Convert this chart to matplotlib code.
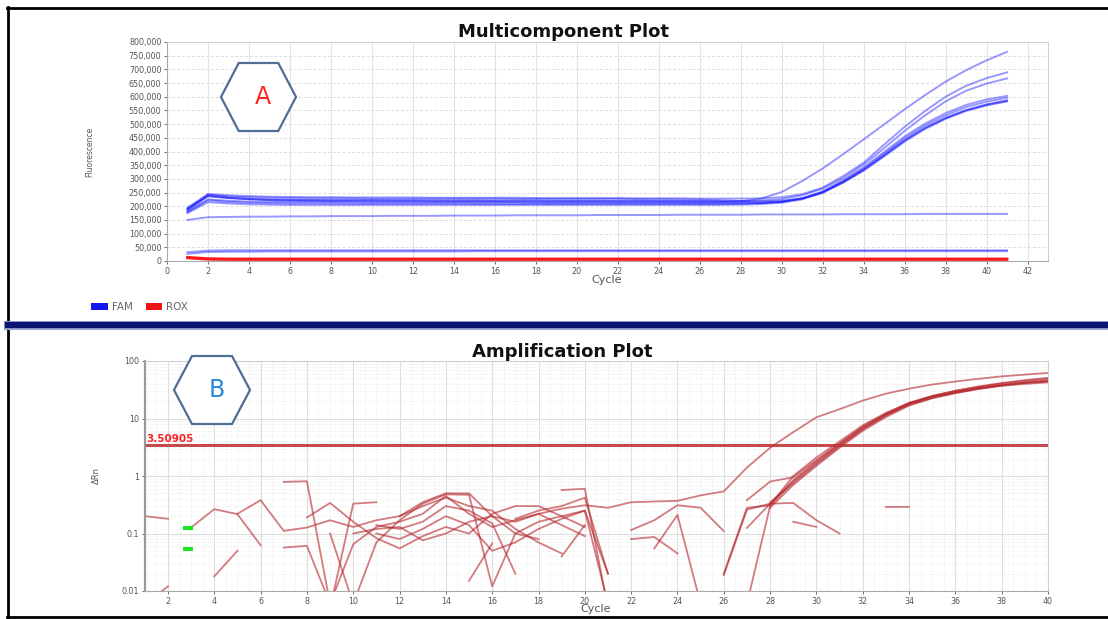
import matplotlib
matplotlib.use('Agg')
import matplotlib.pyplot as plt
import numpy as np
from matplotlib.lines import Line2D
from matplotlib.patches import Patch, Polygon
from matplotlib.ticker import FuncFormatter, MultipleLocator, FixedLocator, LogLocator, NullFormatter

N = None

# ---------- Multicomponent plot (fluorescence, in thousands) ----------
mc_cycles = list(range(1, 42))

fam_1 = [190, 240, 232, 226, 222, 220, 219, 218, 218, 217, 217, 217, 216, 216, 216, 216, 215, 215, 215, 215, 215,
         214, 214, 214, 214, 214, 215, 218, 228, 252, 292, 338, 390, 444, 499, 554, 606, 655, 697, 733, 764]
fam_2 = [195, 245, 240, 237, 235, 234, 233, 233, 232, 232, 232, 232, 231, 231, 231, 231, 231, 230, 230, 230, 230,
         230, 229, 229, 229, 228, 228, 228, 229, 233, 244, 268, 310, 359, 425, 490, 548, 600, 640, 668, 689]
fam_3 = [185, 238, 230, 226, 224, 223, 222, 222, 222, 222, 221, 221, 221, 221, 221, 220, 220, 220, 220, 220, 220,
         219, 219, 219, 219, 219, 219, 219, 221, 226, 240, 264, 303, 352, 412, 475, 532, 583, 622, 648, 667]
fam_4 = [178, 222, 216, 213, 211, 210, 210, 210, 209, 209, 209, 209, 209, 209, 208, 208, 208, 208, 208, 208, 208,
         208, 208, 208, 208, 208, 208, 209, 211, 216, 229, 254, 295, 342, 398, 455, 502, 540, 570, 590, 603]
fam_5 = [192, 236, 230, 226, 224, 223, 223, 222, 222, 222, 222, 222, 221, 221, 221, 221, 221, 221, 220, 220, 220,
         220, 220, 219, 219, 218, 216, 214, 214, 217, 228, 252, 291, 337, 392, 448, 495, 532, 562, 582, 596]
fam_6 = [175, 215, 210, 207, 206, 205, 205, 205, 205, 205, 205, 205, 205, 205, 205, 205, 205, 205, 205, 205, 205,
         205, 205, 205, 205, 205, 205, 206, 208, 213, 225, 249, 287, 332, 385, 440, 486, 522, 551, 572, 587]
fam_7 = [182, 225, 220, 217, 216, 215, 215, 215, 215, 214, 214, 214, 214, 214, 214, 214, 214, 213, 213, 213, 213,
         213, 213, 213, 212, 212, 211, 211, 212, 216, 228, 251, 289, 334, 387, 441, 487, 523, 551, 571, 585]
fam_8 = [188, 242, 236, 233, 231, 230, 229, 229, 229, 228, 228, 228, 228, 228, 228, 228, 227, 227, 227, 227, 227,
         227, 226, 226, 225, 224, 222, 219, 218, 220, 229, 250, 286, 330, 382, 436, 482, 519, 548, 568, 583]
fam_flat = [150, 160, 161, 162, 162, 163, 163, 164, 164, 164, 165, 165, 165, 166, 166, 166, 167, 167, 167, 167, 168,
            168, 168, 168, 169, 169, 169, 169, 170, 170, 170, 170, 171, 171, 171, 171, 172, 172, 172, 172, 172]
fam_low1 = [26, 33, 34, 34, 35, 35, 35, 35, 35, 35, 35, 35, 35, 35, 36, 36, 36, 36, 36, 36, 36,
            36, 36, 36, 36, 36, 36, 36, 36, 36, 36, 36, 36, 36, 36, 36, 36, 36, 36, 36, 36]
fam_low2 = [32, 38, 39, 39, 39, 39, 39, 39, 39, 39, 39, 39, 39, 39, 39, 39, 39, 39, 39, 39, 39,
            39, 39, 39, 39, 39, 39, 39, 39, 39, 39, 39, 39, 39, 39, 39, 39, 39, 39, 39, 39]
rox_1 = [14, 9, 8, 8, 8, 8, 8, 8, 8, 8, 8, 8, 8, 8, 8, 8, 8, 8, 8, 8, 8,
         8, 8, 8, 8, 8, 8, 8, 8, 8, 8, 8, 8, 8, 8, 8, 8, 8, 8, 8, 8]
rox_2 = [11, 6, 5, 5, 5, 5, 5, 5, 5, 5, 5, 5, 5, 5, 5, 5, 5, 5, 5, 5, 5,
         5, 5, 5, 5, 5, 5, 5, 5, 5, 5, 5, 5, 5, 5, 5, 5, 5, 5, 5, 5]

fam_wells = [fam_1, fam_2, fam_3, fam_4, fam_5, fam_6, fam_7, fam_8, fam_flat, fam_low1, fam_low2]
rox_wells = [rox_1, rox_2]

# ---------- Amplification plot (delta Rn, cycles 1..40) ----------
amp_cycles = list(range(1, 41))

well_1 = [0.20, 0.18, N, N, N, N, 0.057, 0.061, 0.006, 0.065,
          0.13, 0.16, 0.22, 0.45, 0.22, 0.13, 0.17, 0.22, 0.14, 0.09,
          N, N, N, N, N, 0.02, 0.28, 0.31, 1.0, 2.1,
          4.0, 7.6, 12.5, 18.5, 24, 29, 34, 38.5, 42.5, 46]
well_2 = [0.006, 0.012, N, N, N, N, N, 0.19, 0.34, 0.16,
          0.083, 0.055, 0.09, 0.13, 0.10, 0.22, 0.30, 0.30, 0.20, 0.13,
          N, N, N, N, N, N, 0.38, 0.80, 0.95, 1.9,
          3.7, 7.0, 11.8, 18, 23.5, 28.5, 33.5, 38, 42, 45]
well_3 = [N, N, 0.127, 0.265, 0.217, 0.0625, N, N, 0.005, 0.33,
          0.35, N, N, N, 0.015, 0.067, N, N, 0.04, 0.14,
          N, N, N, N, N, N, 0.006, 0.30, 0.80, 1.7,
          3.4, 6.6, 11.2, 17.2, 22.8, 28, 33, 37.5, 41.5, 44]
well_4 = [N, N, N, 0.018, 0.05, N, N, N, 0.10, 0.006,
          0.07, 0.17, 0.33, 0.48, 0.47, 0.012, 0.10, 0.16, 0.20, 0.25,
          0.02, N, N, N, N, N, 0.125, 0.33, 0.85, 1.8,
          3.6, 7.2, 12.2, 18.8, 24.8, 30.2, 35.5, 40.5, 45, 49]
well_5 = [N, N, N, N, 0.22, 0.38, 0.111, 0.127, 0.17, 0.13,
          0.17, 0.20, 0.30, 0.42, 0.30, 0.25, 0.12, 0.07, 0.045, N,
          N, N, N, N, N, N, N, 0.35, 0.75, 1.6,
          3.3, 6.5, 11.5, 18.2, 24.5, 30.5, 36, 41.5, 46.5, 51]
well_6 = [N, N, N, N, N, N, 0.79, 0.81, 0.006, N,
          0.10, 0.08, 0.12, 0.20, 0.14, 0.05, 0.07, 0.12, 0.18, 0.25,
          0.006, N, N, N, N, N, N, 0.28, 0.70, 1.5,
          3.1, 6.1, 10.6, 16.8, 22.5, 27.5, 32.5, 37, 40, 42.5]
well_7 = [N, N, N, N, N, N, N, N, N, 0.10,
          0.12, 0.13, 0.076, 0.10, 0.16, 0.20, 0.16, 0.22, 0.27, 0.31,
          0.28, 0.35, 0.36, 0.37, 0.46, 0.54, 1.4, 3.1, 5.8, 10.5,
          14.5, 20.5, 27, 33, 39, 44, 49, 54, 58, 62]
well_8 = [N, N, N, N, N, N, N, N, N, N,
          N, N, N, N, N, N, N, N, 0.57, 0.60,
          0.005, N, N, N, N, 0.019, 0.26, 0.33, 0.34, 0.17,
          0.10, N, N, N, N, N, N, N, N, N]
well_9 = [N, N, N, N, N, N, N, N, N, N,
          N, 0.20, 0.35, 0.50, 0.50, 0.20, 0.10, 0.08, N, N,
          N, 0.08, 0.087, 0.045, N, N, N, N, 0.16, 0.13,
          N, N, 0.29, 0.29, N, N, N, N, N, N]
well_10 = [N, N, N, N, N, N, N, N, N, N,
           N, N, N, N, N, N, 0.18, 0.25, 0.30, 0.42,
           0.02, N, 0.055, 0.21, 0.006, N, N, N, N, N,
           N, N, N, N, N, N, N, N, N, N]
well_11 = [N, N, N, N, N, N, N, N, N, N,
           0.14, 0.12, 0.16, 0.30, 0.25, 0.15, 0.02, N, N, N,
           N, 0.115, 0.17, 0.31, 0.28, 0.11, N, N, N, N,
           N, N, N, N, N, N, N, N, N, N]

amp_wells = [well_1, well_2, well_3, well_4, well_5, well_6, well_7, well_8, well_9, well_10, well_11]

threshold = 3.50905
marker_cycles = [2.88, 2.88]
marker_values = [0.125, 0.054]

W, H = 1108, 619
fig = plt.figure(figsize=(W / 100, H / 100), dpi=100)


def fx(px):
    return px / W


def fy(py):
    return 1 - py / H


# frame lines
fig.add_artist(Line2D([fx(8), fx(8)], [fy(7), fy(618)], color='black', lw=2))
fig.add_artist(Line2D([fx(7), 1], [fy(8), fy(8)], color='black', lw=2))
fig.add_artist(Line2D([fx(7), 1], [fy(617), fy(617)], color='black', lw=2))
fig.add_artist(Line2D([fx(8), 1], [fy(324.5), fy(324.5)], color='#9aa4d0', lw=6.5))
fig.add_artist(Line2D([fx(8), 1], [fy(324.5), fy(324.5)], color='#0b1272', lw=4.5))

tick_col = '#555555'

# ---------- top panel ----------
ax1 = fig.add_axes([fx(167), fy(261), fx(1048 - 167), (261 - 42) / H])
for w in fam_wells:
    ax1.plot(mc_cycles, np.array(w) * 1000, color='#1c1cff', alpha=0.45, lw=1.4)
for w in rox_wells:
    ax1.plot(mc_cycles, np.array(w) * 1000, color='#ff1a1a', lw=1.8)

ax1.set_xlim(0, 43)
ax1.set_ylim(0, 800000)
ax1.xaxis.set_major_locator(MultipleLocator(2))
ax1.yaxis.set_major_locator(MultipleLocator(50000))
ax1.yaxis.set_major_formatter(FuncFormatter(lambda v, p: f'{int(v):,}'))
ax1.grid(axis='x', color='#e2e2e2', lw=0.8)
ax1.grid(axis='y', color='#dddddd', lw=0.7, ls=(0, (3, 2)))
ax1.tick_params(labelsize=5.8, colors=tick_col, length=2.5, width=0.6, pad=1.5)
for s in ['top', 'right']:
    ax1.spines[s].set_color('#d0d0d0')
for s in ['left', 'bottom']:
    ax1.spines[s].set_color('#aaaaaa')
fig.text(fx(563), fy(32), 'Multicomponent Plot', ha='center', va='center',
         fontsize=13, fontweight='heavy', color='#111111')
fig.text(fx(607), fy(280), 'Cycle', ha='center', va='center', fontsize=8, color='#555555')
fig.text(fx(90), fy(152), 'Fluorescence', ha='center', va='center', rotation=90,
         fontsize=5.5, color='#555555')

fig.legend(handles=[Patch(facecolor='#1515f0', edgecolor='none', label='FAM'),
                    Patch(facecolor='#f01515', edgecolor='none', label='ROX')],
           loc='center left', bbox_to_anchor=(fx(82), fy(307)), ncol=2, frameon=False,
           fontsize=7.5, labelcolor='#666666', handlelength=1.6, handleheight=0.6,
           handletextpad=0.4, columnspacing=1.2)

# ---------- bottom panel ----------
ax2 = fig.add_axes([fx(144.8), fy(591), fx(1048 - 144.8), (591 - 361) / H])
for w in amp_wells:
    ax2.plot(amp_cycles, np.array(w, dtype=float), color='#b5252b', alpha=0.6, lw=1.3)
ax2.axhline(threshold, color='#c0353a', lw=2.2, alpha=0.9)
ax2.text(1.08, threshold * 1.04, f'{threshold:.5f}', color='#ff2020', fontsize=7.5,
         fontweight='bold', ha='left', va='bottom')
ax2.plot(marker_cycles, marker_values, ls='none', marker='_', ms=7, mew=3, color='#22e022')

ax2.set_yscale('log')
ax2.set_xlim(1, 40)
ax2.set_ylim(0.01, 100)
ax2.xaxis.set_major_locator(MultipleLocator(2))
ax2.xaxis.set_minor_locator(MultipleLocator(0.5))
ax2.yaxis.set_major_locator(FixedLocator([0.01, 0.1, 1, 10, 100]))
ax2.yaxis.set_major_formatter(FuncFormatter(lambda v, p: f'{v:g}'))
ax2.yaxis.set_minor_locator(LogLocator(base=10, subs=np.arange(2, 10)))
ax2.yaxis.set_minor_formatter(NullFormatter())
ax2.grid(which='major', color='#dedede', lw=0.8)
ax2.grid(which='minor', color='#e6e6e6', lw=0.6, ls=(0, (1, 1.5)))
ax2.tick_params(labelsize=5.8, colors=tick_col, length=2.5, width=0.6, pad=1.5)
ax2.tick_params(which='minor', length=0)
for s in ['top', 'right']:
    ax2.spines[s].set_color('#d0d0d0')
ax2.spines['left'].set_color('#999999')
ax2.spines['left'].set_linewidth(1.6)
ax2.spines['bottom'].set_color('#aaaaaa')
fig.text(fx(562), fy(352), 'Amplification Plot', ha='center', va='center',
         fontsize=13, fontweight='heavy', color='#111111')
fig.text(fx(596), fy(609), 'Cycle', ha='center', va='center', fontsize=8, color='#555555')
fig.text(fx(96), fy(476), '\u0394Rn', ha='center', va='center', rotation=90,
         fontsize=6, color='#555555')


# hexagon labels
def hexagon(cx, cy, hw, hh, letter, letter_col, dx):
    pts = [(cx - hw, cy), (cx - hw / 2 - 1, cy - hh), (cx + hw / 2 + 1, cy - hh),
           (cx + hw, cy), (cx + hw / 2 + 1, cy + hh), (cx - hw / 2 - 1, cy + hh)]
    poly = Polygon([(fx(x), fy(y)) for x, y in pts], closed=True, transform=fig.transFigure,
                   facecolor='white', edgecolor='#4f6e94', lw=1.6, zorder=5)
    fig.add_artist(poly)
    fig.text(fx(cx + dx), fy(cy), letter, ha='center', va='center', fontsize=17,
             color=letter_col, zorder=6)


hexagon(258.5, 97, 37.5, 34, 'A', '#ff2222', 4)
hexagon(212, 390, 38, 34, 'B', '#2b8bdb', 5)

fig.savefig('out.png', dpi=100)
